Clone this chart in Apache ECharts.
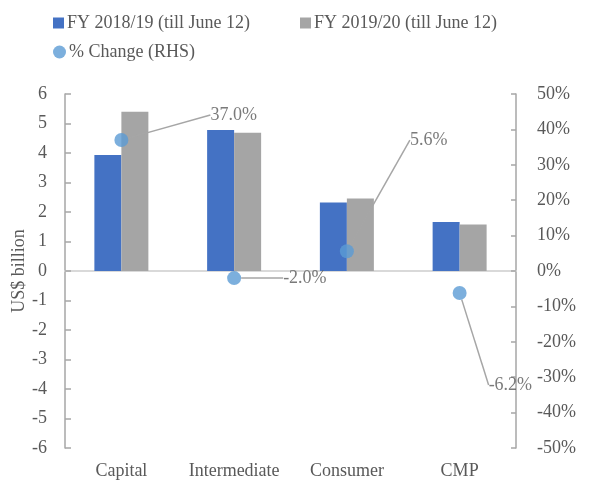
<!DOCTYPE html>
<html><head><meta charset="utf-8">
<script src="https://cdn.jsdelivr.net/npm/echarts@6/dist/echarts.min.js"></script>
<style>html,body{margin:0;padding:0;background:#fff}#c{width:590px;height:481px}</style>
</head><body><div id="c"></div>
<script>
var categories = ['Capital', 'Intermediate', 'Consumer', 'CMP'];
var fy1819 = [3.93, 4.78, 2.32, 1.66];
var fy1920 = [5.40, 4.69, 2.46, 1.58];
var pctChange = [37.0, -2.0, 5.6, -6.2];
var seriesNames = ['FY 2018/19 (till June 12)', 'FY 2019/20 (till June 12)', '% Change (RHS)'];
var labelShift = [[77, -25], [37, 0], [51, -111], [17, 92]];

var font = 'Liberation Serif';
var txt = '#595959';
var axisCol = '#a6a6a6';
var chart = echarts.init(document.getElementById('c'));
chart.setOption({
  animation: false,
  textStyle: {fontFamily: font, color: txt},
  legend: [
    {left: 48, top: 9, itemWidth: 11, itemHeight: 11, itemGap: 50, icon: 'rect',
     textStyle: {fontFamily: font, fontSize: 18, color: txt, padding: [0,0,0,-2]},
     data: [seriesNames[0], seriesNames[1]]},
    {left: 48, top: 38, itemWidth: 13, itemHeight: 13, icon: 'circle',
     textStyle: {fontFamily: font, fontSize: 18, color: txt, padding: [0,0,0,-2]},
     data: [seriesNames[2]]}
  ],
  grid: {left: 65, right: 74, top: 94, bottom: 33, containLabel: false, outerBoundsMode: 'none'},
  xAxis: [
    {type: 'category', data: categories, position: 'bottom',
     axisLine: {show: false, onZero: false}, axisTick: {show: false},
     axisLabel: {fontFamily: font, fontSize: 18, color: txt, margin: 14, interval: 0, hideOverlap: false}},
    {type: 'category', data: categories, position: 'bottom',
     axisLine: {show: true, onZero: true, lineStyle: {color: '#d9d9d9', width: 2}},
     axisTick: {show: false}, axisLabel: {show: false}}
  ],
  yAxis: [
    {type: 'value', min: -6, max: 6, interval: 1, name: 'US$ billion',
     nameLocation: 'middle', nameGap: 37, nameMoveOverlap: false,
     nameTextStyle: {fontFamily: font, fontSize: 18, color: txt},
     axisLine: {show: true, lineStyle: {color: axisCol, width: 1.5}},
     axisTick: {show: true, inside: true, length: 6, lineStyle: {color: axisCol, width: 1.5}},
     splitLine: {show: false},
     axisLabel: {fontFamily: font, fontSize: 18, color: txt, margin: 18}},
    {type: 'value', min: -50, max: 50, interval: 10, position: 'right',
     axisLine: {show: true, lineStyle: {color: axisCol, width: 1.5}},
     axisTick: {show: true, inside: true, length: 5, lineStyle: {color: axisCol, width: 1.5}},
     splitLine: {show: false},
     axisLabel: {fontFamily: font, fontSize: 18, color: txt, margin: 21, formatter: '{value}%'}}
  ],
  series: [
    {name: seriesNames[0], type: 'bar', data: fy1819, barWidth: 27, barGap: '0%',
     itemStyle: {color: '#4472c4'}},
    {name: seriesNames[1], type: 'bar', data: fy1920, barWidth: 27, barGap: '0%',
     itemStyle: {color: '#a5a5a5'}},
    {name: seriesNames[2], type: 'scatter', yAxisIndex: 1, data: pctChange,
     symbol: 'circle', symbolSize: 14, itemStyle: {color: '#5b9bd5'}, z: 5,
     label: {show: true, position: 'right', distance: 5, fontFamily: font, fontSize: 18, color: txt,
       formatter: function (p) { return p.value.toFixed(1) + '%'; }},
     labelLine: {show: true, lineStyle: {color: axisCol, width: 1.5}},
     labelLayout: function (p) { var s = labelShift[p.dataIndex]; return {dx: s[0], dy: s[1]}; }}
  ]
});
</script></body></html>
